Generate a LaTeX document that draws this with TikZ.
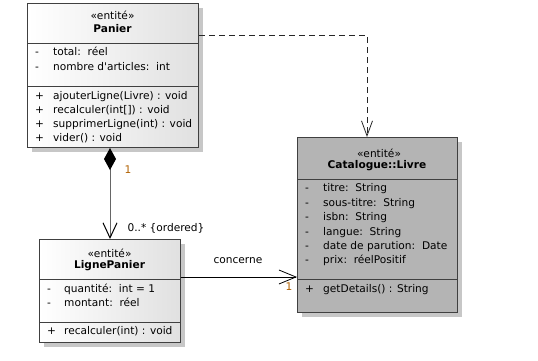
\documentclass[tikz,border=0pt]{standalone}
\usepackage{fontspec}
\setmainfont{DejaVu Sans}
\usetikzlibrary{arrows.meta,shadows}

\definecolor{boxline}{RGB}{64,64,64}
\definecolor{multcol}{RGB}{176,96,0}
\definecolor{livrefill}{RGB}{180,180,180}

\newcommand{\umlfont}{\fontsize{10.6}{12}\selectfont}

\tikzset{
  classbox/.style={draw=boxline, line width=1pt, rectangle, anchor=north west, inner sep=0pt,
    drop shadow={shadow xshift=4pt, shadow yshift=-4pt, fill=black!22, opacity=1}},
  entity/.style={classbox, left color=white, right color=black!12},
  sep/.style={draw=boxline, line width=1pt},
  stereo/.style={font=\umlfont, inner sep=0pt},
  title/.style={font=\umlfont\bfseries, inner sep=0pt},
  member/.style={font=\umlfont, inner sep=0pt, anchor=west, text height=8pt, text depth=2.5pt},
  mult/.style={font=\umlfont, text=multcol, inner sep=0pt},
  assoctext/.style={font=\umlfont, inner sep=0pt},
  compo/.style={draw=black!60, line width=1pt,
    {Diamond[length=22pt,width=12pt,color=black]}-{Straight Barb[length=15pt,width=14pt,color=black]}},
  navig/.style={draw=black, line width=0.8pt, -{Straight Barb[length=17pt,width=14pt]}},
  depend/.style={draw=black!85, line width=0.8pt, dash pattern=on 6pt off 4pt,
    -{Straight Barb[length=15pt,width=11pt]}}
}

\begin{document}
\begin{tikzpicture}[x=1pt,y=-1pt]
\useasboundingbox (0,0) rectangle (538,360);

% the three classes
\node[entity, minimum width=171pt, minimum height=144pt] (panier) at (27,3) {};
\node[entity, minimum width=141pt, minimum height=103pt] (lignepanier) at (39,239) {};
\node[classbox, fill=livrefill, minimum width=160pt, minimum height=175pt] (livre) at (297,137) {};

% compartments
\draw[sep] (panier.west |- 0,43) -- (panier.east |- 0,43);
\draw[sep] (panier.west |- 0,86) -- (panier.east |- 0,86);
\draw[sep] (lignepanier.west |- 0,279) -- (lignepanier.east |- 0,279);
\draw[sep] (lignepanier.west |- 0,322) -- (lignepanier.east |- 0,322);
\draw[sep] (livre.west |- 0,179) -- (livre.east |- 0,179);
\draw[sep] (livre.west |- 0,279) -- (livre.east |- 0,279);

% Panier
\node[stereo] (panier-st) at (112.5,15) {«entité»};
\node[title] (panier-nm) at (112.5,29) {Panier};
\foreach \y/\t [count=\i] in {53/{total:~~réel}, 68/{nombre d\textquotesingle articles:~~int}} {
  \node[member] (panier-d\i) at (35,\y) {-};
  \node[member] (panier-a\i) at (53,\y) {\t};
}
\foreach \y/\t [count=\i] in {97/{ajouterLigne(Livre) : void}, 111/{recalculer(int[]) : void},
    125/{supprimerLigne(int) : void}, 139/{vider() : void}} {
  \node[member] (panier-p\i) at (35,\y) {+};
  \node[member] (panier-o\i) at (53,\y) {\t};
}

% LignePanier
\node[stereo] (lp-st) at (109.5,253) {«entité»};
\node[title] (lp-nm) at (109.5,266) {LignePanier};
\foreach \y/\t [count=\i] in {290/{quantité:~~int = 1}, 304/{montant:~~réel}} {
  \node[member] (lp-d\i) at (47,\y) {-};
  \node[member] (lp-a\i) at (64,\y) {\t};
}
\node[member] (lp-p1) at (47,332) {+};
\node[member] (lp-o1) at (64,332) {recalculer(int) : void};

% Catalogue::Livre
\node[stereo] (livre-st) at (379,153) {«entité»};
\node[title] (livre-nm) at (377,166) {Catalogue::Livre};
\foreach \y/\t [count=\i] in {189/{titre:~~String}, 204/{sous-titre:~~String}, 218/{isbn:~~String},
    233/{langue:~~String}, 247/{date de parution:~~Date}, 261/{prix:~~réelPositif}} {
  \node[member] (livre-d\i) at (305,\y) {-};
  \node[member] (livre-a\i) at (323,\y) {\t};
}
\node[member] (livre-p1) at (305,290) {+};
\node[member] (livre-o1) at (323,290) {getDetails() : String};

% relations
\draw[compo] (lignepanier.north |- panier.south) -- (lignepanier.north);
\node[mult] (compo-1) at (128,170) {1};
\node[assoctext] (compo-n) at (166,228) {0..* \{ordered\}};

\coordinate (assoc) at (0,277);
\draw[navig] (lignepanier.east |- assoc) -- (livre.west |- assoc);
\node[assoctext] (assoc-nm) at (238,261) {concerne};
\node[mult] (assoc-1) at (289,287) {1};

\coordinate (dep) at (367,35);
\draw[depend] (panier.east |- dep) -| (dep |- livre.north);

\end{tikzpicture}
\end{document}
